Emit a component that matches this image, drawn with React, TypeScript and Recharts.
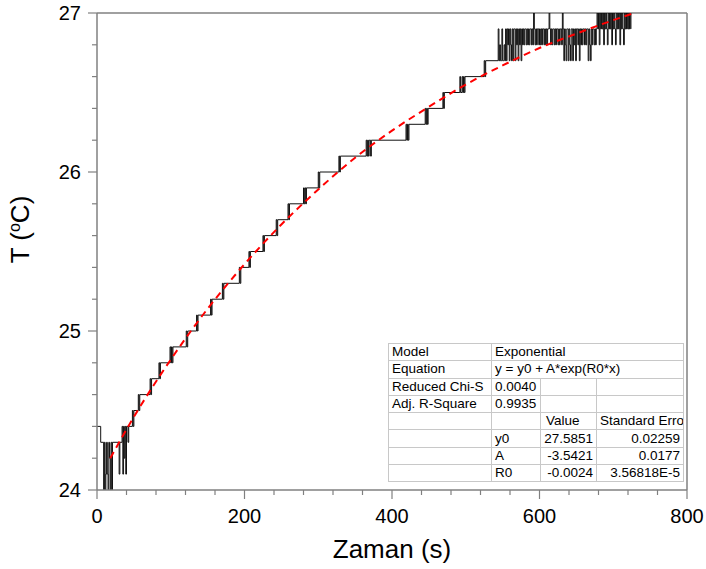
import React from 'react';
import { LineChart, Line, XAxis, YAxis, ReferenceLine } from 'recharts';

const stepPoints: [number, number][] = [
  [0, 24.4], [5, 24.3], [9, 24.0], [10, 24.3], [11, 24.0], [12, 24.1], [13, 24.3], [14, 24.1],
  [15, 24.0], [16, 24.3], [17, 24.2], [18, 24.0], [19, 24.3], [20, 24.0], [21, 24.3],
  [30, 24.1], [31, 24.3], [34, 24.4], [35, 24.1], [36, 24.4], [37, 24.2], [38, 24.4], [39, 24.1],
  [40, 24.4], [42, 24.3], [43, 24.4],
  [48, 24.5], [49, 24.4], [50, 24.5],
  [56, 24.6], [57, 24.5], [58, 24.6],
  [72, 24.7], [73, 24.6], [74, 24.7],
  [84, 24.8], [85, 24.7], [86, 24.8],
  [99, 24.9], [100, 24.8], [101, 24.9], [102, 24.8], [103, 24.9],
  [121, 25.0], [122, 24.9], [123, 25.0],
  [135, 25.1], [136, 25.0], [137, 25.1],
  [154, 25.2], [155, 25.1], [156, 25.2],
  [170, 25.3], [171, 25.2], [172, 25.3],
  [193, 25.4], [194, 25.3], [195, 25.4],
  [206, 25.5], [207, 25.4], [208, 25.5],
  [225, 25.6], [226, 25.5], [227, 25.6],
  [243, 25.7], [244, 25.6], [245, 25.7],
  [259, 25.8], [260, 25.7], [261, 25.8],
  [280, 25.9], [281, 25.8], [282, 25.9], [283, 25.8], [284, 25.9],
  [300, 26.0], [301, 25.9], [302, 26.0],
  [328, 26.1], [329, 26.0], [330, 26.1],
  [365, 26.2], [366, 26.1], [367, 26.2], [368, 26.1], [369, 26.2], [371, 26.1], [372, 26.2],
  [419, 26.3], [420, 26.2], [421, 26.3], [422, 26.2], [423, 26.3],
  [445, 26.4], [446, 26.3], [447, 26.4], [448, 26.3], [449, 26.4],
  [469, 26.5], [470, 26.4], [471, 26.5],
  [492, 26.6], [493, 26.5], [495, 26.6], [496, 26.5], [497, 26.6], [498, 26.5], [499, 26.6],
  [525, 26.7], [526, 26.6], [527, 26.7],
];

// noisy part near the plateau, one reading per second from 544 s
const noiseStart = 544;
const noiseTemps = [
  26.9, 26.7, 26.8, 26.7, 26.7, 26.9, 26.7, 26.7, 26.8, 26.7, 26.9, 26.7, 26.9, 26.8, 26.9, 26.7,
  26.9, 26.8, 26.7, 26.9, 26.7, 26.9,
  26.9, 26.7, 26.9, 26.8, 26.9, 26.7, 26.9, 26.8, 26.9, 26.7, 26.9,
  26.8, 26.9, 26.8, 26.9, 26.9, 26.8, 26.9, 26.8, 26.9, 26.8, 26.9, 26.9, 26.8, 26.9, 26.8, 27.0,
  26.9, 26.8, 26.9, 26.8, 26.9, 26.9, 26.8, 26.9, 26.8, 26.9, 26.8, 26.9, 26.9, 26.8, 26.9, 26.8,
  26.9, 26.8, 26.9, 26.9, 27.0, 26.9, 26.8, 26.9, 26.8, 26.9, 26.9, 26.8, 26.9, 26.8, 26.9, 26.9,
  26.8, 26.9, 26.8, 26.9, 26.9, 26.8, 27.0, 26.9,
  26.7, 26.9, 26.8, 26.7, 26.9, 26.9, 26.7, 26.9, 26.8, 26.7, 26.9, 26.9, 26.7, 26.9, 26.8, 26.9,
  26.7, 26.9, 26.9, 26.8, 26.9, 26.7, 26.9, 26.8, 26.9,
  26.8, 26.9, 26.9, 26.8, 26.9, 26.8, 26.9, 26.9, 26.7, 26.9, 26.8, 26.7, 26.9, 26.8, 26.9, 26.9,
  26.8, 26.9, 26.8, 26.9,
  27.0, 26.9, 27.0, 26.8, 27.0, 26.9, 27.0, 26.9, 27.0, 26.8, 27.0, 26.9, 27.0, 26.9, 26.8, 27.0,
  26.9, 27.0, 26.9, 27.0, 26.8, 27.0, 26.9, 27.0, 26.9, 26.8, 27.0, 26.9, 27.0, 26.9, 27.0, 26.8,
  27.0, 26.9, 27.0, 26.9, 26.8, 27.0, 26.9,
  27.0, 26.9, 27.0, 26.9, 27.0, 26.9, 27.0, 26.9,
];

// exponential fit curve (red dashed), read at these times
const fitTime = [18, 50, 100, 150, 200, 250, 300, 350, 400, 450, 500, 550, 600, 650, 700, 725];
const fitTemp = [24.2, 24.46, 24.82, 25.14, 25.42, 25.67, 25.89, 26.09, 26.26, 26.41, 26.55, 26.67, 26.78, 26.87, 26.955, 26.995];

const xTicks = [0, 40, 80, 120, 160, 200, 240, 280, 320, 360, 400, 440, 480, 520, 560, 600, 640, 680, 720, 760, 800];
const yTicks = [24, 24.2, 24.4, 24.6, 24.8, 25, 25.2, 25.4, 25.6, 25.8, 26, 26.2, 26.4, 26.6, 26.8, 27];

// fit report table
const reportHead = [['Model', 'Exponential'], ['Equation', 'y = y0 + A*exp(R0*x)']];
const reportStats = [['Reduced Chi-S', '0.0040'], ['Adj. R-Square', '0.9935']];
const paramNames = ['y0', 'A', 'R0'];
const paramValues = ['27.5851', '-3.5421', '-0.0024'];
const paramErrors = ['0.02259', '0.0177', '3.56818E-5'];

const measured = [
  ...stepPoints.map(([t, T]) => ({ t, T })),
  ...noiseTemps.map((T, i) => ({ t: noiseStart + i, T })),
];
const fitData = fitTime.map((t, i) => ({ t, T: fitTemp[i] }));

const FONT = '"Liberation Sans", Arial, sans-serif';
const AXIS = '#808080';

const XTick = (props: any) => {
  const { x, y, payload } = props;
  const major = payload.value % 200 === 0;
  return (
    <g>
      <line x1={x} x2={x} y1={y} y2={y + (major ? 9 : 5)} stroke={AXIS} strokeWidth={1.2} />
      {major && (
        <text x={x} y={y + 33} textAnchor="middle" fontSize={20} fontFamily={FONT} fill="#000">
          {payload.value}
        </text>
      )}
    </g>
  );
};

const YTick = (props: any) => {
  const { x, y, payload } = props;
  const major = Math.abs(payload.value - Math.round(payload.value)) < 1e-6;
  return (
    <g>
      <line x1={x} x2={x - (major ? 9 : 5)} y1={y} y2={y} stroke={AXIS} strokeWidth={1.2} />
      {major && (
        <text x={x - 16} y={y + 7} textAnchor="end" fontSize={20} fontFamily={FONT} fill="#000">
          {Math.round(payload.value)}
        </text>
      )}
    </g>
  );
};

const XTitle = (props: any) => {
  const vb = props.viewBox;
  return (
    <text x={vb.x + vb.width / 2} y={vb.y + 68} textAnchor="middle" fontSize={26} fontFamily={FONT} fill="#000">
      Zaman (s)
    </text>
  );
};

const YTitle = (props: any) => {
  const vb = props.viewBox;
  const cx = vb.x + 29;
  const cy = vb.y + vb.height / 2 - 22;
  return (
    <text x={cx} y={cy} transform={`rotate(-90 ${cx} ${cy})`} textAnchor="middle" fontSize={26} fontFamily={FONT} fill="#000">
      T (<tspan dy={-9} fontSize={16}>o</tspan>
      <tspan dy={9}>C)</tspan>
    </text>
  );
};

const cell: React.CSSProperties = {
  border: '1px solid #c8c8c8',
  height: 16.3,
  padding: '0 3px',
  lineHeight: '16px',
  whiteSpace: 'nowrap',
  overflow: 'hidden',
};
const right: React.CSSProperties = { ...cell, textAlign: 'right' };

const FitTable = () => (
  <table
    style={{
      position: 'absolute',
      left: 388,
      top: 343,
      width: 295,
      borderCollapse: 'collapse',
      tableLayout: 'fixed',
      fontFamily: FONT,
      fontSize: 13.5,
      background: '#fff',
      border: '1px solid #a8a8a8',
      color: '#000',
    }}
  >
    <colgroup>
      <col style={{ width: 103 }} />
      <col style={{ width: 49 }} />
      <col style={{ width: 56 }} />
      <col style={{ width: 87 }} />
    </colgroup>
    <tbody>
      {reportHead.map(([k, v]) => (
        <tr key={k}>
          <td style={cell}>{k}</td>
          <td style={cell} colSpan={3}>{v}</td>
        </tr>
      ))}
      {reportStats.map(([k, v]) => (
        <tr key={k}>
          <td style={cell}>{k}</td>
          <td style={cell}>{v}</td>
          <td style={cell}></td>
          <td style={cell}></td>
        </tr>
      ))}
      <tr>
        <td style={cell}></td>
        <td style={cell}></td>
        <td style={{ ...cell, paddingLeft: 5 }}>Value</td>
        <td style={cell}>Standard Erro</td>
      </tr>
      {paramNames.map((p, i) => (
        <tr key={p}>
          <td style={cell}></td>
          <td style={cell}>{p}</td>
          <td style={right}>{paramValues[i]}</td>
          <td style={right}>{paramErrors[i]}</td>
        </tr>
      ))}
    </tbody>
  </table>
);

export default function App() {
  return (
    <div style={{ position: 'absolute', left: 0, top: 0, width: 706, height: 569, background: '#fff' }}>
      <LineChart width={706} height={569} margin={{ top: 13, right: 19, bottom: 0, left: 0 }}>
        <XAxis
          type="number"
          dataKey="t"
          domain={[0, 800]}
          ticks={xTicks}
          interval={0}
          height={79}
          tickSize={0}
          tickMargin={0}
          tick={<XTick />}
          axisLine={{ stroke: AXIS, strokeWidth: 1.5 }}
          label={<XTitle />}
        />
        <YAxis
          type="number"
          domain={[24, 27]}
          ticks={yTicks}
          interval={0}
          width={97}
          tickSize={0}
          tickMargin={0}
          tick={<YTick />}
          axisLine={{ stroke: AXIS, strokeWidth: 1.5 }}
          label={<YTitle />}
          allowDataOverflow
        />
        <ReferenceLine y={27} stroke={AXIS} strokeWidth={1.5} />
        <ReferenceLine x={800} stroke={AXIS} strokeWidth={1.5} />
        <Line
          data={measured}
          dataKey="T"
          type="stepAfter"
          stroke="#111"
          strokeWidth={1}
          dot={false}
          isAnimationActive={false}
        />
        <Line
          data={fitData}
          dataKey="T"
          type="monotone"
          stroke="#ff0000"
          strokeWidth={2}
          strokeDasharray="7 5"
          dot={false}
          isAnimationActive={false}
        />
      </LineChart>
      <FitTable />
    </div>
  );
}
